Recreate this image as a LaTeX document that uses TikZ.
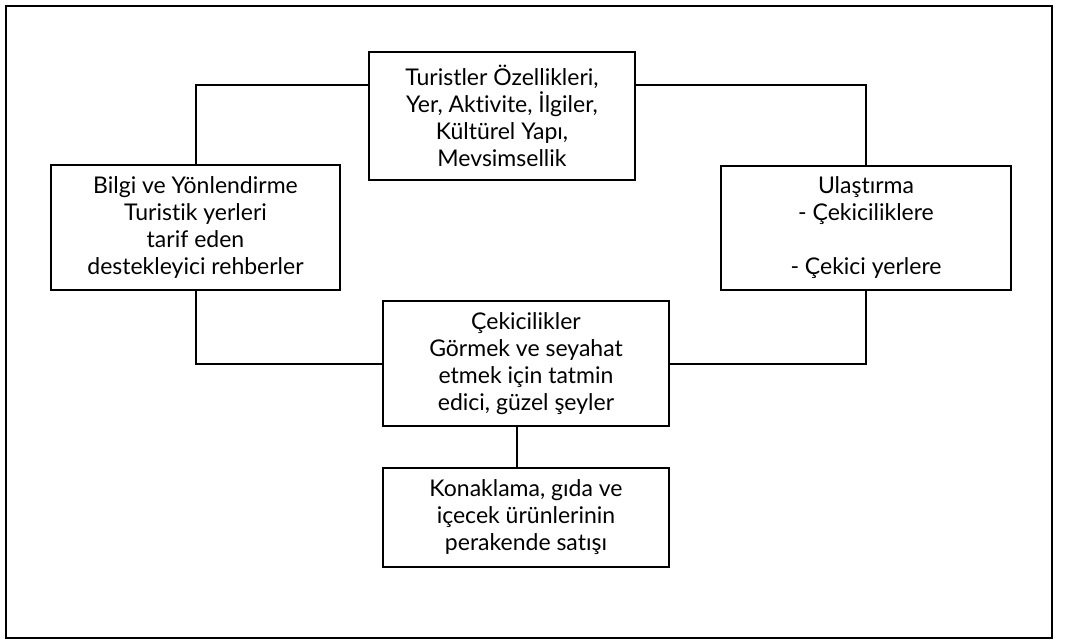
\documentclass[tikz,border=0pt]{standalone}
\usepackage{fontspec}
\setmainfont{Lato}[Ligatures=NoCommon]
\usepackage{tikz}

\begin{document}
\begin{tikzpicture}[x=0.5pt, y=-0.5pt,
		box_style/.style={rectangle,draw=black,line width=1pt,align=center,inner sep=0pt,font=\fontsize{11.5}{13.5}\selectfont},
		edge_style/.style={draw=black,line width=1pt}]
		
		\useasboundingbox (0,0) rectangle (1065,643);
		\draw[line width=0.9pt] (6,6) rectangle (1052,638);
		
		\node[box_style, minimum width=133pt, minimum height=64pt] (n0) at (502,116) {Turistler Özellikleri,\\ Yer, Aktivite, İlgiler,\\ Kültürel Yapı,\\ Mevsimsellik};
		\node[box_style, minimum width=144.5pt, minimum height=62.5pt] (n1) at (195.5,227.5) {Bilgi ve Yönlendirme\\ Turistik yerleri\\ tarif eden\\ destekleyici rehberler};
		\node[box_style, minimum width=145pt, minimum height=62pt] (n2) at (866,228) {Ulaştırma\\ - Çekiciliklere\\ \\ - Çekici yerlere};
		\node[box_style, minimum width=143pt, minimum height=62.5pt] (n3) at (526,363.5) {Çekicilikler\\ Görmek ve seyahat\\ etmek için tatmin\\ edici, güzel şeyler};
		\node[box_style, minimum width=143pt, minimum height=49.5pt] (n4) at (526,517.5) {Konaklama, gıda ve\\ içecek ürünlerinin\\ perakende satışı};
		
		\draw[edge_style]  ([yshift=15.5pt]n0.west) -| (n1.north);
		\draw[edge_style]  ([yshift=15.5pt]n0.east) -| (n2.north);
		\draw[edge_style]  (n1.south) |- (n3.west);
		\draw[edge_style]  (n2.south) |- (n3.east);
		\draw[edge_style]  ([xshift=-4.5pt]n3.south) -- ([xshift=-4.5pt]n4.north);
		
\end{tikzpicture}
\end{document}
